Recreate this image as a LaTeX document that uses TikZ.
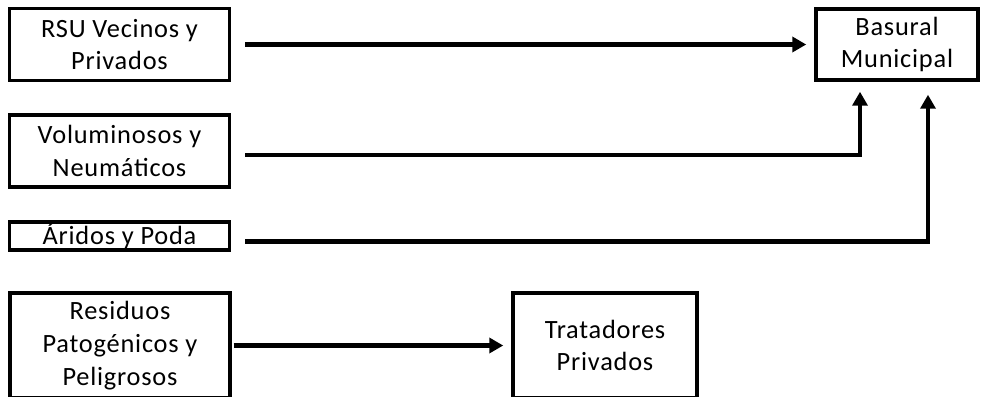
\documentclass[tikz,border=0pt]{standalone}
\usepackage{fontspec}
\setmainfont{Carlito}[LetterSpace=3]
\usetikzlibrary{arrows.meta,positioning}

\begin{document}
\begin{tikzpicture}[x=0.02cm,y=-0.02cm,
  every node/.style={align=center,font=\fontsize{15}{18.6}\selectfont},%
  bx/.style={draw,line width=2pt,inner sep=0pt},%
  wide/.style={minimum width=4.4cm},%
  e/.style={-{Triangle[length=0.28cm,width=0.3cm]},line width=2.6pt,%
    shorten <=0.28cm,shorten >=0.16cm},%
  ]
  \useasboundingbox (0,0) rectangle (981,396);
  \clip (0,0) rectangle (981,396);

  \node (rsu) [bx,wide,minimum height=1.44cm] at (119.5,44.5) {RSU Vecinos y\\Privados};
  \node (vol) [bx,wide,minimum height=1.44cm] at (119.5,151) {Voluminosos y\\Neumáticos};
  \node (ari) [bx,wide,minimum height=0.56cm] at (119.5,236) {Áridos y Poda};
  \node (res) [bx,wide,minimum height=2.1cm] at (120,345.5) {Residuos\\Patogénicos y\\Peligrosos};

  \node (bas) [bx,minimum width=3.24cm,minimum height=1.42cm] at (897,44.5) {Basural\\Municipal};
  \node (tra) [bx,minimum width=3.68cm,minimum height=2.1cm] at (605,345.5) {Tratadores\\Privados};

  \draw [e] (rsu) -- (bas);
  \draw [e,shorten >=0.2cm] ([yshift=-0.08cm]vol.east) -| ([xshift=-0.74cm]bas.south);
  \draw [e,shorten >=0.26cm] ([yshift=-0.11cm]ari.east) -| ([xshift=0.62cm]bas.south);
  \draw [e,shorten <=0.04cm] (res) -- (tra);
\end{tikzpicture}
\end{document}
